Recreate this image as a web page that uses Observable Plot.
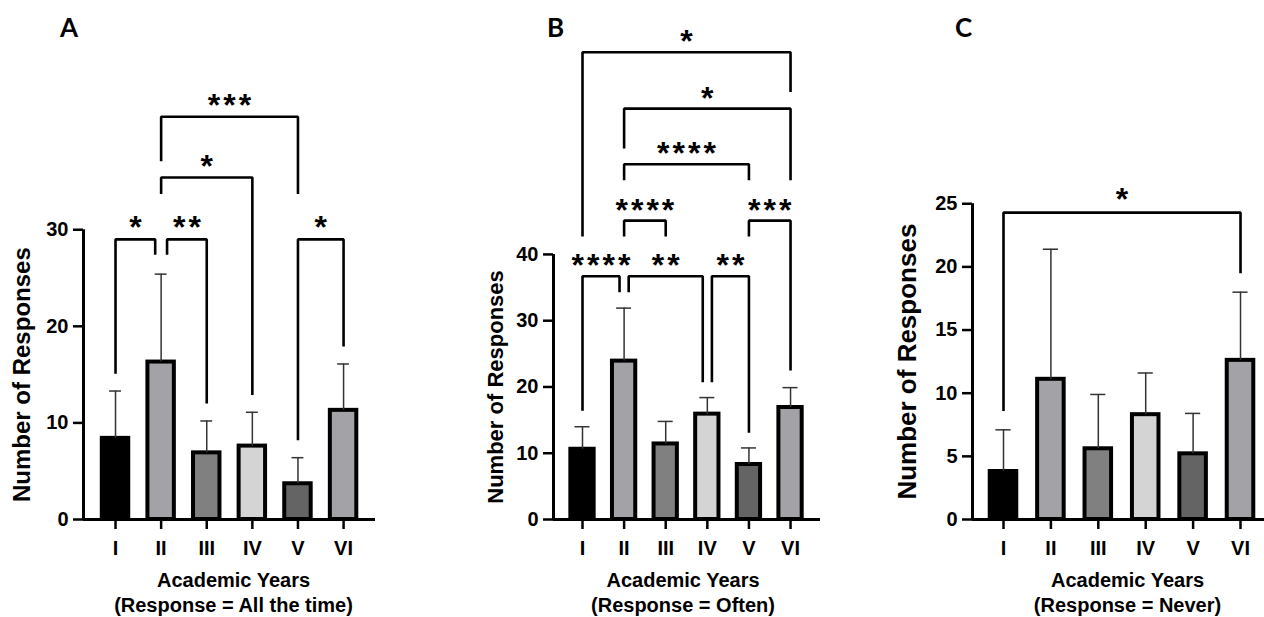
<!DOCTYPE html>
<html><head><meta charset="utf-8">
<script src="https://cdn.jsdelivr.net/npm/d3@7"></script>
<script src="https://cdn.jsdelivr.net/npm/@observablehq/plot@0.6"></script>
<style>
body{margin:0;background:#fff;}
#wrap{position:relative;width:1264px;height:617px;overflow:hidden;background:#fff;}
#wrap svg{position:absolute;top:0;overflow:visible;}
.letter{position:absolute;font-family:Lato,"Open Sans",sans-serif;font-weight:bold;font-size:26px;line-height:26px;color:#000;}
g[aria-description="significance"] text{letter-spacing:3px;}
</style></head><body>
<div id="wrap"></div>
<script>
// ---- data ----
const years = ["I","II","III","IV","V","VI"];
const yearIndex = [1,2,3,4,5,6];
const barFills = ["#000000","#a2a2a7","#808080","#d4d4d4","#646464","#a2a2a7"];

// Panel A: Response = All the time
const allTimeMean  = [8.4, 16.3, 6.9, 7.6, 3.7, 11.3];
const allTimeUpper = [13.3, 25.4, 10.2, 11.1, 6.4, 16.1];
const allTimeTicks = [0, 10, 20, 30];
const allTimeBrFrom   = ["I", "II", "V", "II", "II"];
const allTimeBrTo     = ["II", "III", "VI", "IV", "V"];
const allTimeBrLevel  = [29.0, 29.0, 29.0, 35.4, 41.7];
const allTimeBrLegFrom= [15.1, 27.4, 8.2, 33.7, 37.1];
const allTimeBrLegTo  = [27.4, 12.0, 17.9, 12.9, 33.7];
const allTimeBrLabel  = ["*", "**", "*", "*", "***"];

// Panel B: Response = Often
const oftenMean  = [10.6, 23.9, 11.4, 15.9, 8.3, 16.9];
const oftenUpper = [14.0, 31.9, 14.8, 18.4, 10.8, 19.9];
const oftenTicks = [0, 10, 20, 30, 40];
const oftenBrFrom    = ["I", "II", "IV", "II", "V", "II", "II", "I"];
const oftenBrTo      = ["II", "IV", "V", "III", "VI", "V", "VI", "VI"];
const oftenBrLevel   = [36.7, 36.7, 36.7, 45.1, 45.1, 53.6, 62.0, 70.5];
const oftenBrLegFrom = [16.4, 34.3, 20.7, 42.7, 42.7, 51.2, 56.0, 42.7];
const oftenBrLegTo   = [34.3, 20.7, 13.1, 42.7, 22.5, 51.2, 51.2, 64.5];
const oftenBrLabel   = ["****", "**", "**", "****", "***", "****", "*", "*"];

// Panel C: Response = Never
const neverMean  = [3.8, 11.1, 5.6, 8.3, 5.2, 12.6];
const neverUpper = [7.1, 21.4, 9.9, 11.6, 8.4, 18.0];
const neverTicks = [0, 5, 10, 15, 20, 25];
const neverBrFrom    = ["I"];
const neverBrTo      = ["VI"];
const neverBrLevel   = [24.3];
const neverBrLegFrom = [8.6];
const neverBrLegTo   = [19.5];
const neverBrLabel   = ["*"];

const yTitle = "Number of Responses";
const xTitle = "Academic Years";
const responses = ["All the time", "Often", "Never"];

// ---- drawing ----
function panel(o) {
  const [x0] = o.xDomain;
  const rows = years.map((name, k) => ({name, i: yearIndex[k], mean: o.mean[k], upper: o.upper[k], fill: barFills[k]}));
  const idx = n => yearIndex[years.indexOf(n)];
  const br = o.from.map((f, k) => ({from: idx(f), to: idx(o.to[k]), level: o.level[k], legFrom: o.legFrom[k], legTo: o.legTo[k], label: o.label[k]}));
  br.forEach(b => {
    b.a = b.from + (br.some(c => c !== b && c.level === b.level && c.to === b.from) ? o.nudge : 0);
    b.c = b.to - (br.some(c => c !== b && c.level === b.level && c.from === b.to) ? o.nudge : 0);
  });
  const pts = br.flatMap((b, k) => [
    {k, x: b.a, y: b.legFrom}, {k, x: b.a, y: b.level}, {k, x: b.c, y: b.level}, {k, x: b.c, y: b.legTo}]);
  const svg = Plot.plot({
    width: o.width, height: 617,
    marginLeft: o.marginLeft, marginRight: o.marginRight, marginTop: o.marginTop, marginBottom: 98,
    x: {domain: o.xDomain, axis: null},
    y: {domain: [0, o.yMax], axis: null},
    color: {type: "identity"},
    style: {fontFamily: "'Liberation Sans', Arial, sans-serif", fontWeight: "bold", color: "#000", background: "transparent", overflow: "visible"},
    marks: [
      Plot.rectY(rows, {x1: d => d.i - o.half, x2: d => d.i + o.half, y: "mean", fill: "fill", stroke: "#000", strokeWidth: 4}),
      Plot.ruleX(rows, {x: "i", y1: "mean", y2: "upper", stroke: "#333", strokeWidth: 1.5}),
      Plot.ruleY(rows, {y: "upper", x1: d => d.i - o.cap, x2: d => d.i + o.cap, stroke: "#333", strokeWidth: 1.5}),
      Plot.ruleX([0], {x: () => x0, y1: () => 0, y2: () => o.axisTop, stroke: "#000", strokeWidth: 3}),
      Plot.ruleY([0], {stroke: "#000", strokeWidth: 3}),
      Plot.axisY(o.ticks, {anchor: "left", tickSize: 10, tickPadding: 5, strokeWidth: 2.5, fontSize: 20, fontWeight: "bold", label: null}),
      Plot.axisX(yearIndex, {anchor: "bottom", tickFormat: d => years[d - 1], tickSize: 10, tickPadding: 11, strokeWidth: 2.5, fontSize: 20, fontWeight: "bold", label: null}),
      Plot.line(pts, {x: "x", y: "y", z: "k", stroke: "#000", strokeWidth: 2.6, strokeLinejoin: "miter", strokeLinecap: "butt"}),
      Plot.text(br, {x: d => (d.a + d.c) / 2, y: "level", text: "label", dx: 1.5, dy: o.sigDy, fontSize: 32, fontWeight: "bold", lineAnchor: "bottom", ariaDescription: "significance"}),
      Plot.text([yTitle], {x: () => x0, y: () => o.axisTop / 2, dx: o.yTitleDx, rotate: -90, fontSize: o.yTitleFont, fontWeight: "bold", textAnchor: "middle", lineAnchor: "middle"}),
      Plot.text([xTitle + "\n(Response = " + o.response + ")"], {frameAnchor: "bottom", dx: o.xTitleDx, dy: 50, lineAnchor: "top", lineHeight: 1.25, fontSize: 20, fontWeight: "bold"})
    ]
  });
  svg.style.left = o.left + "px";
  return svg;
}

const wrap = document.getElementById("wrap");
wrap.appendChild(panel({
  left: 0, width: 420, marginLeft: 83, marginRight: 45, marginTop: 94,
  xDomain: [0.298, 6.70], yMax: 44, axisTop: 30, ticks: allTimeTicks,
  mean: allTimeMean, upper: allTimeUpper,
  from: allTimeBrFrom, to: allTimeBrTo, level: allTimeBrLevel, legFrom: allTimeBrLegFrom, legTo: allTimeBrLegTo, label: allTimeBrLabel,
  half: 0.29, cap: 0.13, nudge: 0.13, sigDy: -1, yTitleDx: -61, yTitleFont: 24, xTitleDx: 4, response: responses[0]
}));
wrap.appendChild(panel({
  left: 420, width: 420, marginLeft: 133, marginRight: 20, marginTop: 22,
  xDomain: [0.303, 6.72], yMax: 75, axisTop: 40, ticks: oftenTicks,
  mean: oftenMean, upper: oftenUpper,
  from: oftenBrFrom, to: oftenBrTo, level: oftenBrLevel, legFrom: oftenBrLegFrom, legTo: oftenBrLegTo, label: oftenBrLabel,
  half: 0.28, cap: 0.18, nudge: 0.11, sigDy: 0, yTitleDx: -58, yTitleFont: 22, xTitleDx: -4, response: responses[1]
}));
wrap.appendChild(panel({
  left: 840, width: 424, marginLeft: 132, marginRight: 0, marginTop: 178,
  xDomain: [0.346, 6.506], yMax: 27, axisTop: 25, ticks: neverTicks,
  mean: neverMean, upper: neverUpper,
  from: neverBrFrom, to: neverBrTo, level: neverBrLevel, legFrom: neverBrLegFrom, legTo: neverBrLegTo, label: neverBrLabel,
  half: 0.28, cap: 0.16, nudge: 0.11, sigDy: -3, yTitleDx: -65, yTitleFont: 26, xTitleDx: 9, response: responses[2]
}));

[["A", 60], ["B", 547], ["C", 955]].forEach(([t, x]) => {
  const d = document.createElement("div");
  d.className = "letter";
  d.textContent = t;
  d.style.left = x + "px";
  d.style.top = "14px";
  wrap.appendChild(d);
});
</script>
</body></html>
